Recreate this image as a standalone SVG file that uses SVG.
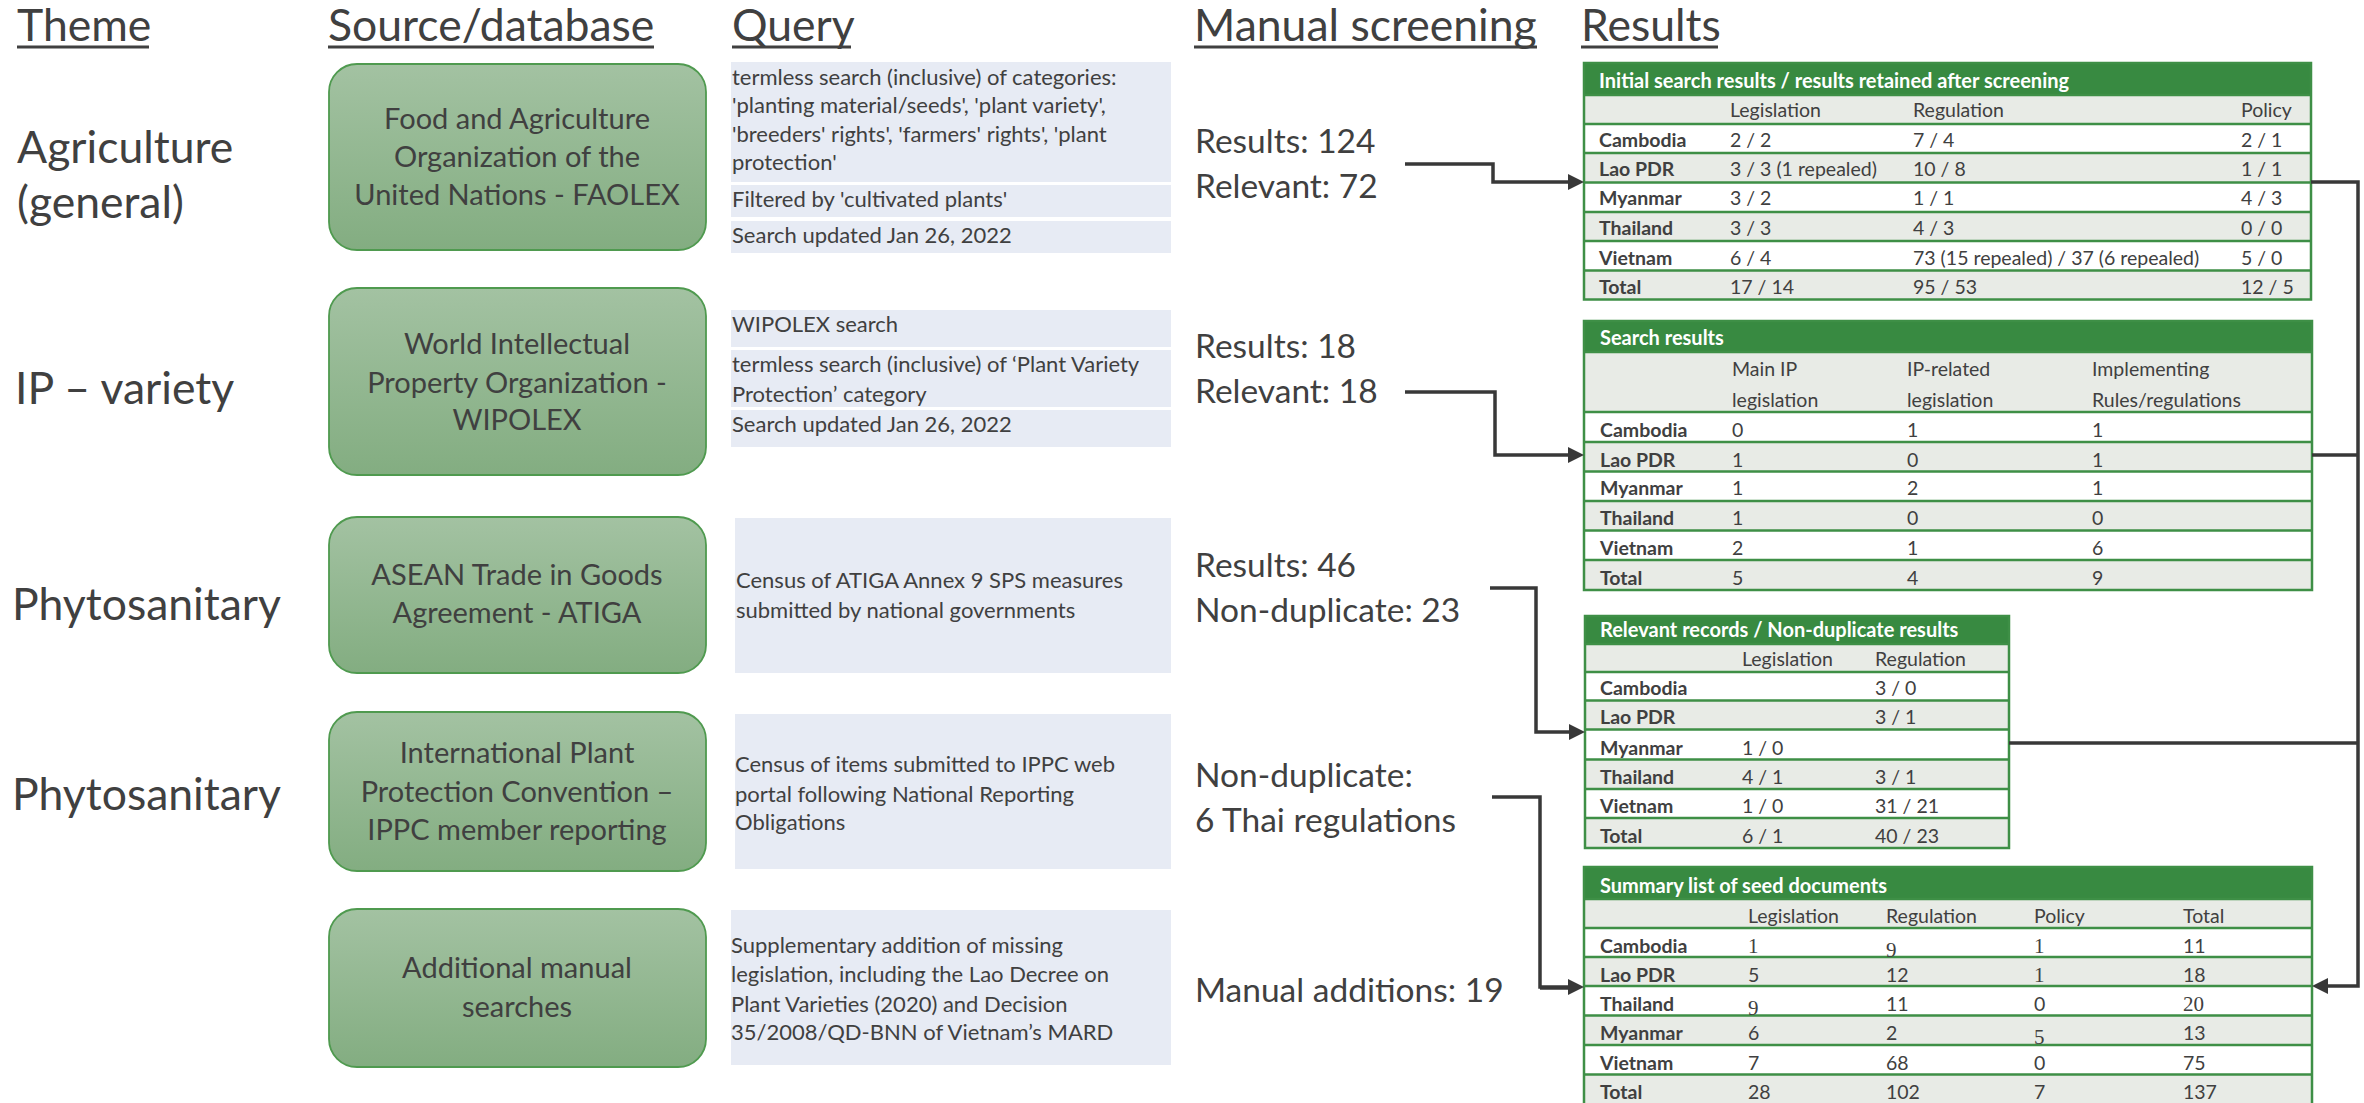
<svg xmlns="http://www.w3.org/2000/svg" width="2364" height="1103" viewBox="0 0 2364 1103">
<defs>
<linearGradient id="gbox" x1="0" y1="0" x2="0" y2="1">
<stop offset="0" stop-color="#a3c2a2"/>
<stop offset="1" stop-color="#83ad81"/>
</linearGradient>
<marker id="arr" markerUnits="userSpaceOnUse" markerWidth="18" markerHeight="18" refX="8" refY="8" orient="auto">
<path d="M0,0 L16,8 L0,16 z" fill="#383838"/>
</marker>
<style>
text{font-family:Lato,"Liberation Sans",sans-serif;fill:#404040}
.hdr{font-size:44.5px}
.ul{stroke:#404040;stroke-width:3}
.src rect{fill:url(#gbox);stroke:#4f9a4f;stroke-width:1.8}
.src text{font-size:29px;text-anchor:middle}
.qb{fill:#e7ebf4}
.q{font-size:22px}
.scr{font-size:33.5px}
.conn path{fill:none;stroke:#383838;stroke-width:3.5}
.tt{font-size:20px;font-weight:bold;fill:#ffffff}
.tc{font-size:19.5px}
.tb{font-size:19.5px;font-weight:bold}
.sf{font-family:"Liberation Serif",serif;font-size:21px}
.hb{fill:#388a41}
.rg{fill:#e8ebe6}
.rw{fill:#ffffff}
.gl{stroke:#3e8f46;stroke-width:2.5;fill:none}
</style>
</defs>
<rect width="2364" height="1103" fill="#ffffff"/>

<g id="headers">
<text class="hdr" x="17" y="41">Theme</text>
<line class="ul" x1="17" y1="47" x2="149" y2="47"/>
<text class="hdr" x="328" y="41">Source/database</text>
<line class="ul" x1="328" y1="47" x2="654" y2="47"/>
<text class="hdr" x="732" y="41">Query</text>
<line class="ul" x1="732" y1="47" x2="851" y2="47"/>
<text class="hdr" x="1194" y="41">Manual screening</text>
<line class="ul" x1="1194" y1="47" x2="1537" y2="47"/>
<text class="hdr" x="1581" y="41">Results</text>
<line class="ul" x1="1581" y1="47" x2="1718" y2="47"/>
</g>

<g id="themes">
<text class="hdr" x="17" y="163">Agriculture</text>
<text class="hdr" x="17" y="218">(general)</text>
<text class="hdr" x="15" y="404">IP – variety</text>
<text class="hdr" x="12" y="620">Phytosanitary</text>
<text class="hdr" x="12" y="810">Phytosanitary</text>
</g>

<g id="src-faolex" class="src">
<rect x="329" y="64" width="377" height="186" rx="28"/>
<text x="517" y="129">Food and Agriculture</text>
<text x="517" y="167">Organization of the</text>
<text x="517" y="205">United Nations - FAOLEX</text>
</g>
<g id="src-wipolex" class="src">
<rect x="329" y="288" width="377" height="187" rx="28"/>
<text x="517" y="354">World Intellectual</text>
<text x="517" y="393">Property Organization -</text>
<text x="517" y="430">WIPOLEX</text>
</g>
<g id="src-atiga" class="src">
<rect x="329" y="517" width="377" height="156" rx="28"/>
<text x="517" y="585">ASEAN Trade in Goods</text>
<text x="517" y="623">Agreement - ATIGA</text>
</g>
<g id="src-ippc" class="src">
<rect x="329" y="712" width="377" height="159" rx="28"/>
<text x="517" y="763">International Plant</text>
<text x="517" y="802">Protection Convention –</text>
<text x="517" y="840">IPPC member reporting</text>
</g>
<g id="src-manual" class="src">
<rect x="329" y="909" width="377" height="158" rx="28"/>
<text x="517" y="978">Additional manual</text>
<text x="517" y="1017">searches</text>
</g>

<g id="query-faolex">
<rect class="qb" x="731" y="62" width="440" height="120"/>
<rect class="qb" x="731" y="185" width="440" height="32"/>
<rect class="qb" x="731" y="221" width="440" height="32"/>
<text class="q" x="732" y="85">termless search (inclusive) of categories:</text>
<text class="q" x="732" y="113">'planting material/seeds', 'plant variety',</text>
<text class="q" x="732" y="142">'breeders' rights', 'farmers' rights', 'plant</text>
<text class="q" x="732" y="170">protection'</text>
<text class="q" x="732" y="207">Filtered by 'cultivated plants'</text>
<text class="q" x="732" y="243">Search updated Jan 26, 2022</text>
</g>
<g id="query-wipolex">
<rect class="qb" x="731" y="310" width="440" height="37"/>
<rect class="qb" x="731" y="350" width="440" height="57"/>
<rect class="qb" x="731" y="410" width="440" height="37"/>
<text class="q" x="732" y="332">WIPOLEX search</text>
<text class="q" x="732" y="372">termless search (inclusive) of ‘Plant Variety</text>
<text class="q" x="732" y="402">Protection’ category</text>
<text class="q" x="732" y="432">Search updated Jan 26, 2022</text>
</g>
<g id="query-atiga">
<rect class="qb" x="735" y="518" width="436" height="155"/>
<text class="q" x="736" y="588">Census of ATIGA Annex 9 SPS measures</text>
<text class="q" x="736" y="618">submitted by national governments</text>
</g>
<g id="query-ippc">
<rect class="qb" x="735" y="714" width="436" height="155"/>
<text class="q" x="735" y="772">Census of items submitted to IPPC web</text>
<text class="q" x="735" y="802">portal following National Reporting</text>
<text class="q" x="735" y="830">Obligations</text>
</g>
<g id="query-manual">
<rect class="qb" x="731" y="910" width="440" height="155"/>
<text class="q" x="731" y="953">Supplementary addition of missing</text>
<text class="q" x="731" y="982">legislation, including the Lao Decree on</text>
<text class="q" x="731" y="1012">Plant Varieties (2020) and Decision</text>
<text class="q" x="731" y="1040">35/2008/QD-BNN of Vietnam’s MARD</text>
</g>

<g id="screen-faolex">
<text class="scr" x="1195" y="153">Results: 124</text>
<text class="scr" x="1195" y="198">Relevant: 72</text>
</g>
<g id="screen-wipolex">
<text class="scr" x="1195" y="358">Results: 18</text>
<text class="scr" x="1195" y="403">Relevant: 18</text>
</g>
<g id="screen-atiga">
<text class="scr" x="1195" y="577">Results: 46</text>
<text class="scr" x="1195" y="622">Non-duplicate: 23</text>
</g>
<g id="screen-ippc">
<text class="scr" x="1195" y="787">Non-duplicate:</text>
<text class="scr" x="1195" y="832">6 Thai regulations</text>
</g>
<g id="screen-manual">
<text class="scr" x="1195" y="1002">Manual additions: 19</text>
</g>

<g id="table-initial">
<rect class="hb" x="1584" y="63" width="727" height="32"/>
<rect class="rg" x="1584" y="95" width="727" height="29"/>
<rect class="rw" x="1584" y="124" width="727" height="29"/>
<rect class="rg" x="1584" y="153" width="727" height="29.5"/>
<rect class="rw" x="1584" y="182.5" width="727" height="29.5"/>
<rect class="rg" x="1584" y="212" width="727" height="29"/>
<rect class="rw" x="1584" y="241" width="727" height="29.5"/>
<rect class="rg" x="1584" y="270.5" width="727" height="29"/>
<path class="gl" d="M1584,95H2311M1584,124H2311M1584,153H2311M1584,182.5H2311M1584,212H2311M1584,241H2311M1584,270.5H2311"/>
<rect class="gl" x="1584" y="63" width="727" height="236.5"/>
<text class="tt" x="1599" y="88">Initial search results / results retained after screening</text>
<text class="tc" x="1730" y="117">Legislation</text><text class="tc" x="1913" y="117">Regulation</text><text class="tc" x="2241" y="117">Policy</text>
<text class="tb" x="1599" y="147">Cambodia</text><text class="tc" x="1730" y="147">2 / 2</text><text class="tc" x="1913" y="147">7 / 4</text><text class="tc" x="2241" y="147">2 / 1</text>
<text class="tb" x="1599" y="176">Lao PDR</text><text class="tc" x="1730" y="176">3 / 3 (1 repealed)</text><text class="tc" x="1913" y="176">10 / 8</text><text class="tc" x="2241" y="176">1 / 1</text>
<text class="tb" x="1599" y="205">Myanmar</text><text class="tc" x="1730" y="205">3 / 2</text><text class="tc" x="1913" y="205">1 / 1</text><text class="tc" x="2241" y="205">4 / 3</text>
<text class="tb" x="1599" y="235">Thailand</text><text class="tc" x="1730" y="235">3 / 3</text><text class="tc" x="1913" y="235">4 / 3</text><text class="tc" x="2241" y="235">0 / 0</text>
<text class="tb" x="1599" y="265">Vietnam</text><text class="tc" x="1730" y="265">6 / 4</text><text class="tc" x="1913" y="265">73 (15 repealed) / 37 (6 repealed)</text><text class="tc" x="2241" y="265">5 / 0</text>
<text class="tb" x="1599" y="294">Total</text><text class="tc" x="1730" y="294">17 / 14</text><text class="tc" x="1913" y="294">95 / 53</text><text class="tc" x="2241" y="294">12 / 5</text>
</g>

<g id="table-search">
<rect class="hb" x="1584" y="321" width="728" height="31"/>
<rect class="rg" x="1584" y="352" width="728" height="60"/>
<rect class="rw" x="1584" y="412" width="728" height="30"/>
<rect class="rg" x="1584" y="442" width="728" height="29.5"/>
<rect class="rw" x="1584" y="471.5" width="728" height="29.5"/>
<rect class="rg" x="1584" y="501" width="728" height="29.5"/>
<rect class="rw" x="1584" y="530.5" width="728" height="29.5"/>
<rect class="rg" x="1584" y="560" width="728" height="30"/>
<path class="gl" d="M1584,352H2312M1584,412H2312M1584,442H2312M1584,471.5H2312M1584,501H2312M1584,530.5H2312M1584,560H2312"/>
<rect class="gl" x="1584" y="321" width="728" height="269"/>
<text class="tt" x="1600" y="345">Search results</text>
<text class="tc" x="1732" y="376">Main IP</text><text class="tc" x="1907" y="376">IP-related</text><text class="tc" x="2092" y="376">Implementing</text>
<text class="tc" x="1732" y="407">legislation</text><text class="tc" x="1907" y="407">legislation</text><text class="tc" x="2092" y="407">Rules/regulations</text>
<text class="tb" x="1600" y="437">Cambodia</text><text class="tc" x="1732" y="437">0</text><text class="tc" x="1907" y="437">1</text><text class="tc" x="2092" y="437">1</text>
<text class="tb" x="1600" y="467">Lao PDR</text><text class="tc" x="1732" y="467">1</text><text class="tc" x="1907" y="467">0</text><text class="tc" x="2092" y="467">1</text>
<text class="tb" x="1600" y="495">Myanmar</text><text class="tc" x="1732" y="495">1</text><text class="tc" x="1907" y="495">2</text><text class="tc" x="2092" y="495">1</text>
<text class="tb" x="1600" y="525">Thailand</text><text class="tc" x="1732" y="525">1</text><text class="tc" x="1907" y="525">0</text><text class="tc" x="2092" y="525">0</text>
<text class="tb" x="1600" y="555">Vietnam</text><text class="tc" x="1732" y="555">2</text><text class="tc" x="1907" y="555">1</text><text class="tc" x="2092" y="555">6</text>
<text class="tb" x="1600" y="585">Total</text><text class="tc" x="1732" y="585">5</text><text class="tc" x="1907" y="585">4</text><text class="tc" x="2092" y="585">9</text>
</g>

<g id="table-relevant">
<rect class="hb" x="1585" y="616" width="424" height="28"/>
<rect class="rg" x="1585" y="644" width="424" height="28"/>
<rect class="rw" x="1585" y="672" width="424" height="28.5"/>
<rect class="rg" x="1585" y="700.5" width="424" height="29"/>
<rect class="rw" x="1585" y="729.5" width="424" height="30"/>
<rect class="rg" x="1585" y="759.5" width="424" height="29.5"/>
<rect class="rw" x="1585" y="789" width="424" height="29"/>
<rect class="rg" x="1585" y="818" width="424" height="30"/>
<path class="gl" d="M1585,644H2009M1585,672H2009M1585,700.5H2009M1585,729.5H2009M1585,759.5H2009M1585,789H2009M1585,818H2009"/>
<rect class="gl" x="1585" y="616" width="424" height="232"/>
<text class="tt" x="1600" y="637">Relevant records / Non-duplicate results</text>
<text class="tc" x="1742" y="666">Legislation</text><text class="tc" x="1875" y="666">Regulation</text>
<text class="tb" x="1600" y="695">Cambodia</text><text class="tc" x="1875" y="695">3 / 0</text>
<text class="tb" x="1600" y="724">Lao PDR</text><text class="tc" x="1875" y="724">3 / 1</text>
<text class="tb" x="1600" y="755">Myanmar</text><text class="tc" x="1742" y="755">1 / 0</text>
<text class="tb" x="1600" y="784">Thailand</text><text class="tc" x="1742" y="784">4 / 1</text><text class="tc" x="1875" y="784">3 / 1</text>
<text class="tb" x="1600" y="813">Vietnam</text><text class="tc" x="1742" y="813">1 / 0</text><text class="tc" x="1875" y="813">31 / 21</text>
<text class="tb" x="1600" y="843">Total</text><text class="tc" x="1742" y="843">6 / 1</text><text class="tc" x="1875" y="843">40 / 23</text>
</g>

<g id="table-summary">
<rect class="hb" x="1584" y="867" width="728" height="32"/>
<rect class="rg" x="1584" y="899" width="728" height="29"/>
<rect class="rw" x="1584" y="928" width="728" height="29"/>
<rect class="rg" x="1584" y="957" width="728" height="29"/>
<rect class="rw" x="1584" y="986" width="728" height="29.5"/>
<rect class="rg" x="1584" y="1015.5" width="728" height="29.5"/>
<rect class="rw" x="1584" y="1045" width="728" height="29.5"/>
<rect class="rg" x="1584" y="1074.5" width="728" height="29.5"/>
<path class="gl" d="M1584,899H2312M1584,928H2312M1584,957H2312M1584,986H2312M1584,1015.5H2312M1584,1045H2312M1584,1074.5H2312"/>
<rect class="gl" x="1584" y="867" width="728" height="240"/>
<text class="tt" x="1600" y="893">Summary list of seed documents</text>
<text class="tc" x="1748" y="923">Legislation</text><text class="tc" x="1886" y="923">Regulation</text><text class="tc" x="2034" y="923">Policy</text><text class="tc" x="2183" y="923">Total</text>
<text class="tb" x="1600" y="953">Cambodia</text><text class="sf" x="1748" y="953">1</text><text class="sf" x="1886" y="957">9</text><text class="sf" x="2034" y="953">1</text><text class="tc" x="2183" y="953">11</text>
<text class="tb" x="1600" y="982">Lao PDR</text><text class="tc" x="1748" y="982">5</text><text class="tc" x="1886" y="982">12</text><text class="sf" x="2034" y="982">1</text><text class="tc" x="2183" y="982">18</text>
<text class="tb" x="1600" y="1011">Thailand</text><text class="sf" x="1748" y="1015">9</text><text class="tc" x="1886" y="1011">11</text><text class="tc" x="2034" y="1011">0</text><text class="sf" x="2183" y="1011">20</text>
<text class="tb" x="1600" y="1040">Myanmar</text><text class="tc" x="1748" y="1040">6</text><text class="tc" x="1886" y="1040">2</text><text class="sf" x="2034" y="1044">5</text><text class="tc" x="2183" y="1040">13</text>
<text class="tb" x="1600" y="1070">Vietnam</text><text class="tc" x="1748" y="1070">7</text><text class="tc" x="1886" y="1070">68</text><text class="tc" x="2034" y="1070">0</text><text class="tc" x="2183" y="1070">75</text>
<text class="tb" x="1600" y="1099">Total</text><text class="tc" x="1748" y="1099">28</text><text class="tc" x="1886" y="1099">102</text><text class="tc" x="2034" y="1099">7</text><text class="tc" x="2183" y="1099">137</text>
</g>

<g id="connectors" class="conn">
<path d="M1405,164H1493V182H1576" marker-end="url(#arr)"/>
<path d="M1405,392H1495V455H1576" marker-end="url(#arr)"/>
<path d="M1490,588H1536V732H1577" marker-end="url(#arr)"/>
<path d="M1492,797H1540V987H1576" marker-end="url(#arr)"/>
<path d="M1540,988H1568"/>
<path d="M2311,182H2358V986H2320" marker-end="url(#arr)"/>
<path d="M2312,455H2358"/>
<path d="M2009,743H2358"/>
</g>
</svg>
